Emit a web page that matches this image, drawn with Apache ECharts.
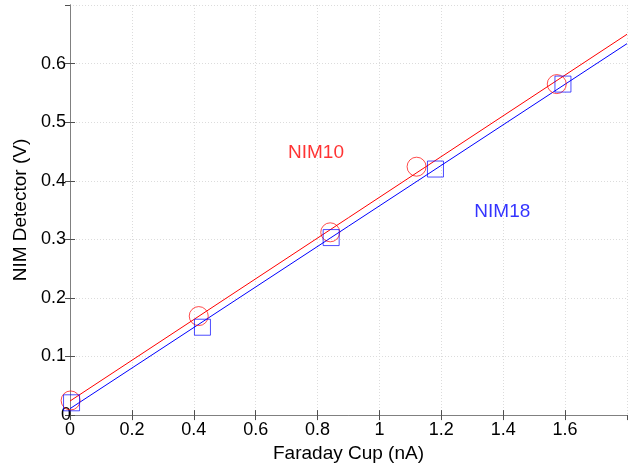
<!DOCTYPE html>
<html>
  <head>
    <meta charset="utf-8">
    <title>NIM Detector vs Faraday Cup</title>
    <script src="https://cdn.jsdelivr.net/npm/echarts@6/dist/echarts.min.js"></script>
    <style>
      html, body { margin: 0; padding: 0; background: #fff; }
    </style>
  </head>
  <body>
    <div id="chart" style="width: 629px; height: 468px;"></div>
    <script type="text/javascript">
      // measured points
      var nim10Points = [[0.002, 0.025], [0.416, 0.169], [0.841, 0.312], [1.12, 0.424], [1.573, 0.565]];
      var nim18Points = [[0.005, 0.021], [0.428, 0.150], [0.844, 0.303], [1.181, 0.420], [1.593, 0.565]];
      // fitted lines (end points at the axis edges)
      var nim10Fit = [[0, 0.024], [1.8, 0.650]];
      var nim18Fit = [[0, 0.011], [1.8, 0.634]];
      // text labels inside the plot
      var nim10Label = [[0.795, 0.448]];
      var nim18Label = [[1.397, 0.347]];

      var RED = '#ff0000';
      var BLUE = '#0000ff';
      var FONT = 'Liberation Sans';

      var chartElem = echarts.init(document.getElementById('chart'), null, { renderer: 'canvas' });

      var gridLine = { show: true, lineStyle: { color: '#dcdcdc', type: [1, 2], width: 1 } };
      var boxLine = { show: true, lineStyle: { color: '#808080', width: 1 } };
      var tick = { show: true, inside: true, length: 5, lineStyle: { color: '#505050' } };

      var option = {
        animation: false,
        backgroundColor: '#ffffff',
        textStyle: { fontFamily: FONT },
        grid: { left: 70, right: 2, top: 5, bottom: 49, containLabel: false },
        xAxis: [{
          type: 'value',
          min: 0, max: 1.8, interval: 0.2,
          name: 'Faraday Cup (nA)',
          nameLocation: 'middle',
          nameGap: 27,
          nameTextStyle: { fontSize: 19, color: '#000', fontFamily: FONT },
          axisLine: boxLine,
          axisTick: tick,
          axisLabel: {
            fontSize: 18, color: '#000', margin: 6, fontFamily: FONT,
            showMaxLabel: false,
            formatter: function (v) { return String(+v.toFixed(1)); }
          },
          splitLine: gridLine
        }, {
          type: 'value',
          position: 'top',
          min: 0, max: 1.8, interval: 0.2,
          axisLine: boxLine,
          axisTick: tick,
          axisLabel: { show: false },
          splitLine: { show: false }
        }],
        yAxis: [{
          type: 'value',
          min: 0, max: 0.7, interval: 0.1,
          name: 'NIM Detector (V)',
          nameLocation: 'middle',
          nameGap: 38,
          nameTextStyle: { fontSize: 19, color: '#000', fontFamily: FONT },
          axisLine: boxLine,
          axisTick: tick,
          axisLabel: {
            fontSize: 18, color: '#000', margin: 4, fontFamily: FONT,
            showMaxLabel: false,
            alignMinLabel: 'center',
            formatter: function (v) { return String(+v.toFixed(1)); }
          },
          splitLine: gridLine
        }, {
          type: 'value',
          position: 'right',
          min: 0, max: 0.7, interval: 0.1,
          axisLine: boxLine,
          axisTick: tick,
          axisLabel: { show: false },
          splitLine: { show: false }
        }],
        series: [
          {
            type: 'line', name: 'NIM10 fit', data: nim10Fit,
            showSymbol: false, symbol: 'none',
            lineStyle: { color: RED, width: 1 }, z: 3
          },
          {
            type: 'line', name: 'NIM18 fit', data: nim18Fit,
            showSymbol: false, symbol: 'none',
            lineStyle: { color: BLUE, width: 1 }, z: 3
          },
          {
            type: 'scatter', name: 'NIM10', data: nim10Points,
            symbol: 'circle', symbolSize: 19,
            itemStyle: { color: 'rgba(0,0,0,0)', borderColor: RED, borderWidth: 1, opacity: 0.7 },
            z: 4
          },
          {
            type: 'scatter', name: 'NIM18', data: nim18Points,
            symbol: 'rect', symbolSize: 16,
            itemStyle: { color: 'rgba(0,0,0,0)', borderColor: BLUE, borderWidth: 1, opacity: 0.7 },
            z: 4
          },
          {
            type: 'scatter', data: nim10Label, symbolSize: 0, silent: true,
            label: { show: true, position: 'inside', formatter: 'NIM10', color: RED, fontSize: 19, fontFamily: FONT }
          },
          {
            type: 'scatter', data: nim18Label, symbolSize: 0, silent: true,
            label: { show: true, position: 'inside', formatter: 'NIM18', color: BLUE, fontSize: 19, fontFamily: FONT }
          }
        ]
      };

      chartElem.setOption(option);
    </script>
  </body>
</html>
